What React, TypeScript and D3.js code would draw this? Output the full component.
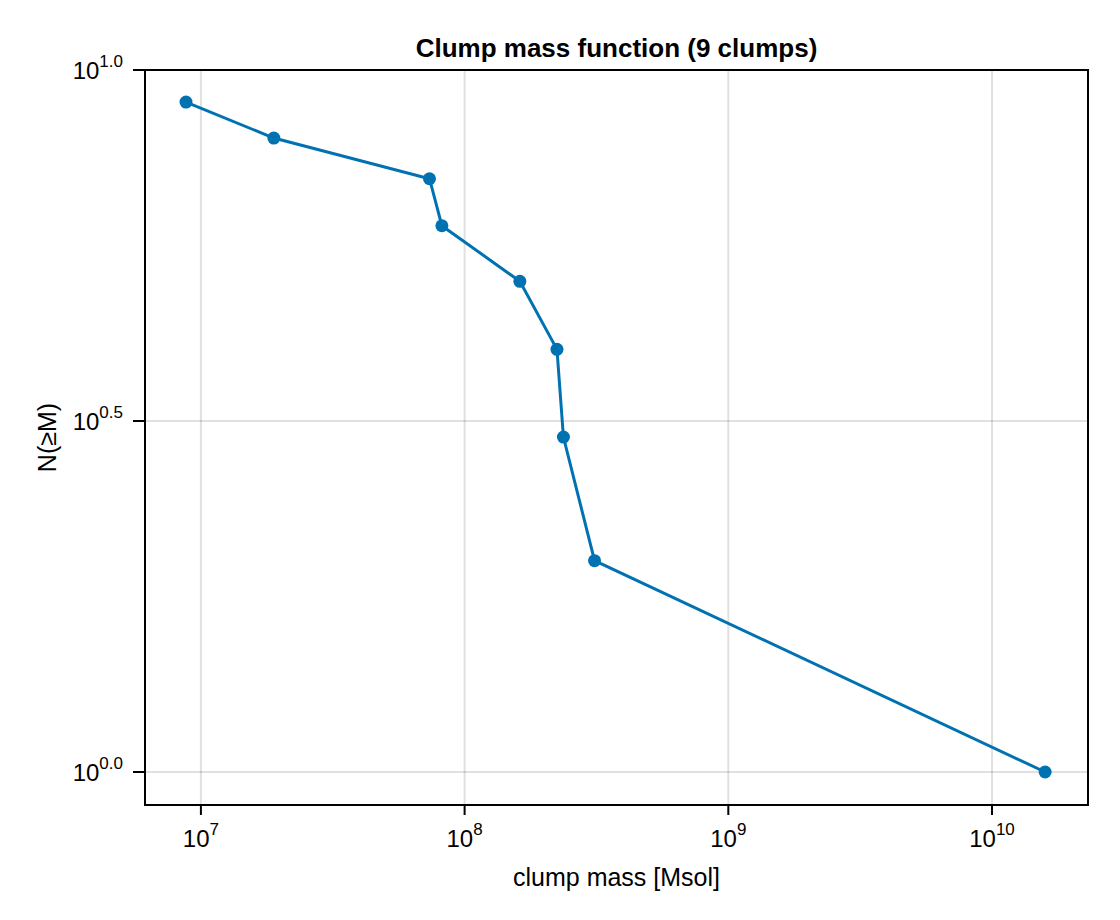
import React from 'react'
import { scaleLog, line } from 'd3'

// clump masses in Msol, sorted ascending, and cumulative count N(>=M)
const masses = [8.78e6, 1.89e7, 7.36e7, 8.2e7, 1.62e8, 2.24e8, 2.37e8, 3.11e8, 1.59e10]
const counts = [9, 8, 7, 6, 5, 4, 3, 2, 1]

const xTicks = [1e7, 1e8, 1e9, 1e10]
const xTickExps = ['7', '8', '9', '10']
const yTicks = [1, Math.pow(10, 0.5), 10]
const yTickExps = ['0.0', '0.5', '1.0']

const title = 'Clump mass function (9 clumps)'
const xLabel = 'clump mass [Msol]'
const yLabel = 'N(≥M)'

function App() {
  const width = 1120,
    height = 920
  const left = 145,
    right = 1088,
    top = 70,
    bottom = 805

  const x = scaleLog().domain([Math.pow(10, 6.788), Math.pow(10, 10.364)]).range([left, right])
  const y = scaleLog().domain([Math.pow(10, -0.047), 10]).range([bottom, top])

  const pts = masses.map((m, i) => [x(m), y(counts[i])] as [number, number])
  const path = line()(pts)

  const font = "'Liberation Sans', Arial, sans-serif"
  const blue = '#0072b2'

  return (
    <svg width={width} height={height} style={{ display: 'block', position: 'absolute', left: 0, top: 0 }} fontFamily={font}>
      <rect width={width} height={height} fill='white' />
      {/* grid */}
      {xTicks.map((t, i) => (
        <line key={'gx' + i} x1={x(t)} x2={x(t)} y1={top} y2={bottom} stroke='#000' strokeOpacity={0.12} strokeWidth={2} />
      ))}
      {yTicks.map((t, i) => (
        <line key={'gy' + i} x1={left} x2={right} y1={y(t)} y2={y(t)} stroke='#000' strokeOpacity={0.12} strokeWidth={2} />
      ))}

      {/* data */}
      <path d={path || ''} fill='none' stroke={blue} strokeWidth={3} />
      {pts.map((p, i) => (
        <circle key={i} cx={p[0]} cy={p[1]} r={6.5} fill={blue} />
      ))}

      {/* frame */}
      <rect x={left} y={top} width={right - left} height={bottom - top} fill='none' stroke='#000' strokeWidth={2} />

      {/* x ticks */}
      {xTicks.map((t, i) => (
        <g key={'xt' + i}>
          <line x1={x(t)} x2={x(t)} y1={bottom} y2={bottom + 10} stroke='#000' strokeWidth={2} />
          <text x={x(t)} y={bottom + 42} textAnchor='middle' fontSize={24} fill='#000'>
            10<tspan fontSize={17} dy={-12}>{xTickExps[i]}</tspan>
          </text>
        </g>
      ))}

      {/* y ticks */}
      {yTicks.map((t, i) => (
        <g key={'yt' + i}>
          <line x1={left - 12} x2={left} y1={y(t)} y2={y(t)} stroke='#000' strokeWidth={2} />
          <text x={left - 22} y={y(t) + 9} textAnchor='end' fontSize={24} fill='#000'>
            10<tspan fontSize={17} dy={-12}>{yTickExps[i]}</tspan>
          </text>
        </g>
      ))}

      <text x={(left + right) / 2} y={57} textAnchor='middle' fontSize={26} fontWeight='bold' fill='#000'>
        {title}
      </text>
      <text x={(left + right) / 2} y={886} textAnchor='middle' fontSize={25} fill='#000'>
        {xLabel}
      </text>
      <text transform={`translate(56,${(top + bottom) / 2}) rotate(-90)`} textAnchor='middle' fontSize={25} fill='#000'>
        {yLabel}
      </text>
    </svg>
  )
}

export default App
